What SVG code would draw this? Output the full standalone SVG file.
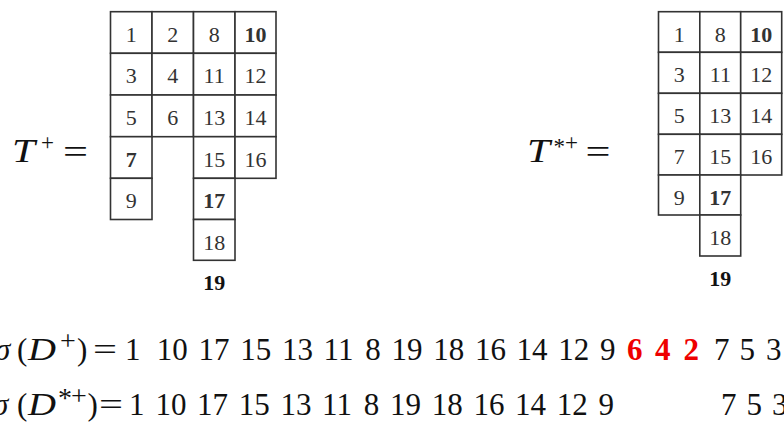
<svg xmlns="http://www.w3.org/2000/svg" width="784" height="422" viewBox="0 0 784 422">
<style>
.bg{fill:#ffffff}
.cell rect{fill:#ffffff;stroke:#333333;stroke-width:1.6}
.cell text,.num{font-family:"Liberation Serif",serif;font-size:22px;text-anchor:middle;fill:#333333}
.b{font-weight:bold;fill:#111111}
.m{font-family:"Liberation Serif",serif;font-size:31px;fill:#111111}
.i{font-style:italic}
.sup{font-family:"Liberation Serif",serif;font-size:28px;fill:#111111}
.lab{font-family:"Liberation Serif",serif;font-size:34px;fill:#111111}
.labsup{font-family:"Liberation Serif",serif;font-size:23px;fill:#111111}
.red{font-weight:bold;fill:#ee0000}
</style>
<rect class="bg" x="0" y="0" width="784" height="422"/>

<!-- Left tableau T+ -->
<g id="label-Tplus">
  <text class="lab i" x="12" y="161.7" textLength="23" lengthAdjust="spacingAndGlyphs">T</text>
  <text class="labsup" x="41" y="150">+</text>
  <text class="lab" x="63" y="162.5" textLength="25" lengthAdjust="spacingAndGlyphs">=</text>
</g>
<g id="tableau-left">
  <g id="L1" class="cell"><rect x="110.5" y="11.7" width="41.5" height="41.6"/><text x="131.2" y="41.7">1</text></g>
  <g id="L2" class="cell"><rect x="152" y="11.7" width="41.5" height="41.6"/><text x="172.7" y="41.7">2</text></g>
  <g id="L8" class="cell"><rect x="193.5" y="11.7" width="41.5" height="41.6"/><text x="214.2" y="41.7">8</text></g>
  <g id="L10" class="cell"><rect x="235" y="11.7" width="41" height="41.6"/><text class="b" x="255.5" y="41.7">10</text></g>
  <g id="L3" class="cell"><rect x="110.5" y="53.3" width="41.5" height="41.7"/><text x="131.2" y="83.3">3</text></g>
  <g id="L4" class="cell"><rect x="152" y="53.3" width="41.5" height="41.7"/><text x="172.7" y="83.3">4</text></g>
  <g id="L11" class="cell"><rect x="193.5" y="53.3" width="41.5" height="41.7"/><text x="214.2" y="83.3">11</text></g>
  <g id="L12" class="cell"><rect x="235" y="53.3" width="41" height="41.7"/><text x="255.5" y="83.3">12</text></g>
  <g id="L5" class="cell"><rect x="110.5" y="95" width="41.5" height="41.7"/><text x="131.2" y="125">5</text></g>
  <g id="L6" class="cell"><rect x="152" y="95" width="41.5" height="41.7"/><text x="172.7" y="125">6</text></g>
  <g id="L13" class="cell"><rect x="193.5" y="95" width="41.5" height="41.7"/><text x="214.2" y="125">13</text></g>
  <g id="L14" class="cell"><rect x="235" y="95" width="41" height="41.7"/><text x="255.5" y="125">14</text></g>
  <g id="L7" class="cell"><rect x="110.5" y="136.7" width="41.5" height="41.6"/><text class="b" x="131.2" y="166.7">7</text></g>
  <g id="L15" class="cell"><rect x="193.5" y="136.7" width="41.5" height="41.6"/><text x="214.2" y="166.7">15</text></g>
  <g id="L16" class="cell"><rect x="235" y="136.7" width="41" height="41.6"/><text x="255.5" y="166.7">16</text></g>
  <g id="L9" class="cell"><rect x="110.5" y="178.3" width="41.5" height="41.2"/><text x="131.2" y="208.3">9</text></g>
  <g id="L17" class="cell"><rect x="193.5" y="178.3" width="41.5" height="41.2"/><text class="b" x="214.2" y="208.3">17</text></g>
  <g id="L18" class="cell"><rect x="193.5" y="219.5" width="41.5" height="40.8"/><text x="214.2" y="249.5">18</text></g>
  <g id="L19"><text class="num b" x="214.2" y="290">19</text></g>
</g>

<!-- Right tableau T*+ -->
<g id="label-Tstarplus">
  <text class="lab i" x="527" y="161.7" textLength="23" lengthAdjust="spacingAndGlyphs">T</text>
  <text class="labsup" x="553.5" y="153.5">*</text>
  <text class="labsup" x="565" y="150">+</text>
  <text class="lab" x="585.5" y="162.5" textLength="25" lengthAdjust="spacingAndGlyphs">=</text>
</g>
<g id="tableau-right">
  <g id="R1" class="cell"><rect x="658.5" y="11.7" width="41.3" height="40.6"/><text x="679.2" y="41.5">1</text></g>
  <g id="R8" class="cell"><rect x="699.8" y="11.7" width="40.9" height="40.6"/><text x="720.3" y="41.5">8</text></g>
  <g id="R10" class="cell"><rect x="740.7" y="11.7" width="41" height="40.6"/><text class="b" x="761.2" y="41.5">10</text></g>
  <g id="R3" class="cell"><rect x="658.5" y="52.3" width="41.3" height="41"/><text x="679.2" y="82.3">3</text></g>
  <g id="R11" class="cell"><rect x="699.8" y="52.3" width="40.9" height="41"/><text x="720.3" y="82.3">11</text></g>
  <g id="R12" class="cell"><rect x="740.7" y="52.3" width="41" height="41"/><text x="761.2" y="82.3">12</text></g>
  <g id="R5" class="cell"><rect x="658.5" y="93.3" width="41.3" height="41"/><text x="679.2" y="123.3">5</text></g>
  <g id="R13" class="cell"><rect x="699.8" y="93.3" width="40.9" height="41"/><text x="720.3" y="123.3">13</text></g>
  <g id="R14" class="cell"><rect x="740.7" y="93.3" width="41" height="41"/><text x="761.2" y="123.3">14</text></g>
  <g id="R7" class="cell"><rect x="658.5" y="134.3" width="41.3" height="40.7"/><text x="679.2" y="164.3">7</text></g>
  <g id="R15" class="cell"><rect x="699.8" y="134.3" width="40.9" height="40.7"/><text x="720.3" y="164.3">15</text></g>
  <g id="R16" class="cell"><rect x="740.7" y="134.3" width="41" height="40.7"/><text x="761.2" y="164.3">16</text></g>
  <g id="R9" class="cell"><rect x="658.5" y="175" width="41.3" height="40"/><text x="679.2" y="205">9</text></g>
  <g id="R17" class="cell"><rect x="699.8" y="175" width="40.9" height="40"/><text class="b" x="720.3" y="205">17</text></g>
  <g id="R18" class="cell"><rect x="699.8" y="215" width="40.9" height="41"/><text x="720.3" y="245">18</text></g>
  <g id="R19"><text class="num b" x="720.3" y="286">19</text></g>
</g>

<!-- Equation 1 -->
<g id="eq1">
  <text class="m i" x="-5" y="360">σ</text>
  <text class="m" x="17" y="360">(</text>
  <text class="m i" x="28" y="360" textLength="28" lengthAdjust="spacingAndGlyphs">D</text>
  <text class="sup" x="60" y="349.5">+</text>
  <text class="m" x="77" y="360">)</text>
  <text class="m" x="93" y="360" textLength="24" lengthAdjust="spacingAndGlyphs">=</text>
  <text class="m" x="125" y="360">1</text>
  <text class="m" x="156.8" y="360">10</text>
  <text class="m" x="198.5" y="360">17</text>
  <text class="m" x="240.2" y="360">15</text>
  <text class="m" x="281.9" y="360">13</text>
  <text class="m" x="323.6" y="360">11</text>
  <text class="m" x="365.3" y="360">8</text>
  <text class="m" x="391.5" y="360">19</text>
  <text class="m" x="433.2" y="360">18</text>
  <text class="m" x="474.9" y="360">16</text>
  <text class="m" x="516.6" y="360">14</text>
  <text class="m" x="558.3" y="360">12</text>
  <text class="m" x="600" y="360">9</text>
  <text class="m red" x="627" y="360">6</text>
  <text class="m red" x="655" y="360">4</text>
  <text class="m red" x="683.5" y="360">2</text>
  <text class="m" x="714" y="360">7</text>
  <text class="m" x="739.5" y="360">5</text>
  <text class="m" x="766" y="360">3</text>
</g>

<!-- Equation 2 -->
<g id="eq2">
  <text class="m i" x="-7" y="415">σ</text>
  <text class="m" x="17" y="415">(</text>
  <text class="m i" x="28" y="415" textLength="28" lengthAdjust="spacingAndGlyphs">D</text>
  <text class="sup" x="58" y="407">*</text>
  <text class="sup" x="71" y="404.5">+</text>
  <text class="m" x="87.5" y="415">)</text>
  <text class="m" x="99" y="415" textLength="24" lengthAdjust="spacingAndGlyphs">=</text>
  <text class="m" x="129" y="415">1</text>
  <text class="m" x="155.5" y="415">10</text>
  <text class="m" x="197" y="415">17</text>
  <text class="m" x="238.7" y="415">15</text>
  <text class="m" x="280.4" y="415">13</text>
  <text class="m" x="322.1" y="415">11</text>
  <text class="m" x="363.8" y="415">8</text>
  <text class="m" x="390" y="415">19</text>
  <text class="m" x="431.7" y="415">18</text>
  <text class="m" x="473.4" y="415">16</text>
  <text class="m" x="515.1" y="415">14</text>
  <text class="m" x="556.8" y="415">12</text>
  <text class="m" x="598.5" y="415">9</text>
  <text class="m" x="721" y="415">7</text>
  <text class="m" x="746.5" y="415">5</text>
  <text class="m" x="772" y="415">3</text>
</g>
</svg>
